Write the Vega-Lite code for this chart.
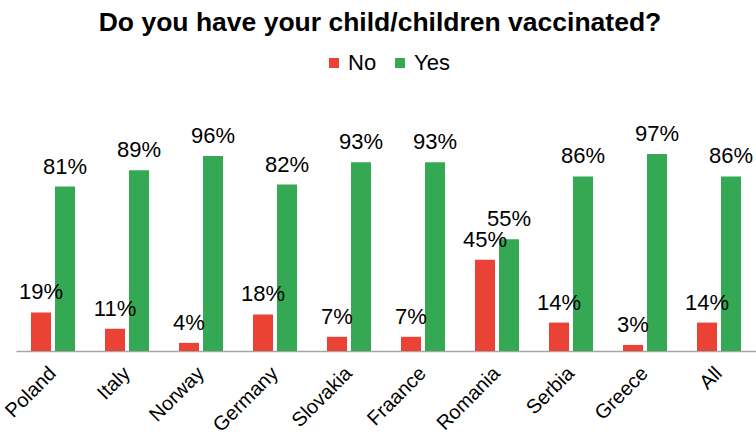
{
  "$schema": "https://vega.github.io/schema/vega-lite/v6.json",
  "width": 740,
  "height": 203,
  "autosize": {"type": "none"},
  "padding": {"left": 16, "top": 148, "right": 0, "bottom": 89},
  "background": "white",
  "config": {"view": {"stroke": null}, "font": "Liberation Sans"},
  "title": {
    "text": "Do you have your child/children vaccinated?",
    "font": "Liberation Sans",
    "fontSize": 26.5,
    "fontWeight": "bold",
    "color": "#000000",
    "anchor": "middle",
    "dx": -6,
    "offset": 16
  },
  "data": {
    "values": [
      {"country": "Poland", "answer": "No", "value": 0.19},
      {"country": "Poland", "answer": "Yes", "value": 0.81},
      {"country": "Italy", "answer": "No", "value": 0.11},
      {"country": "Italy", "answer": "Yes", "value": 0.89},
      {"country": "Norway", "answer": "No", "value": 0.04},
      {"country": "Norway", "answer": "Yes", "value": 0.96},
      {"country": "Germany", "answer": "No", "value": 0.18},
      {"country": "Germany", "answer": "Yes", "value": 0.82},
      {"country": "Slovakia", "answer": "No", "value": 0.07},
      {"country": "Slovakia", "answer": "Yes", "value": 0.93},
      {"country": "Fraance", "answer": "No", "value": 0.07},
      {"country": "Fraance", "answer": "Yes", "value": 0.93},
      {"country": "Romania", "answer": "No", "value": 0.45},
      {"country": "Romania", "answer": "Yes", "value": 0.55},
      {"country": "Serbia", "answer": "No", "value": 0.14},
      {"country": "Serbia", "answer": "Yes", "value": 0.86},
      {"country": "Greece", "answer": "No", "value": 0.03},
      {"country": "Greece", "answer": "Yes", "value": 0.97},
      {"country": "All", "answer": "No", "value": 0.14},
      {"country": "All", "answer": "Yes", "value": 0.86}
    ]
  },
  "encoding": {
    "x": {
      "field": "country",
      "type": "nominal",
      "sort": ["Poland", "Italy", "Norway", "Germany", "Slovakia", "Fraance", "Romania", "Serbia", "Greece", "All"],
      "scale": {"paddingInner": 0, "paddingOuter": 0},
      "axis": {
        "title": null,
        "labelAngle": -45,
        "labelAlign": "right",
        "labelBaseline": "middle",
        "labelFontSize": 20,
        "labelColor": "#000000",
        "labelFont": "Liberation Sans",
        "labelPadding": 19,
        "ticks": false,
        "domainColor": "#A6A6A6",
        "domainWidth": 1.5,
        "grid": false
      }
    },
    "xOffset": {
      "field": "answer",
      "type": "nominal",
      "sort": ["No", "Yes"],
      "scale": {"paddingInner": 0.1667, "paddingOuter": 0.625}
    },
    "y": {
      "field": "value",
      "type": "quantitative",
      "scale": {"domain": [0, 1]},
      "axis": null
    }
  },
  "layer": [
    {
      "mark": {"type": "bar"},
      "encoding": {
        "color": {
          "field": "answer",
          "type": "nominal",
          "sort": ["No", "Yes"],
          "scale": {"domain": ["No", "Yes"], "range": ["#EA4335", "#34A853"]},
          "legend": {
            "title": null,
            "orient": "none",
            "legendX": 307,
            "legendY": -96,
            "direction": "horizontal",
            "symbolType": "square",
            "symbolSize": 100,
            "labelFontSize": 22,
            "labelFont": "Liberation Sans",
            "labelColor": "#000000",
            "labelOffset": 3,
            "columnPadding": 12
          }
        }
      }
    },
    {
      "mark": {
        "type": "text",
        "baseline": "alphabetic",
        "dy": -13,
        "fontSize": 22,
        "font": "Liberation Sans",
        "color": "#000000"
      },
      "encoding": {
        "text": {"field": "value", "type": "quantitative", "format": ".0%"}
      }
    }
  ]
}
